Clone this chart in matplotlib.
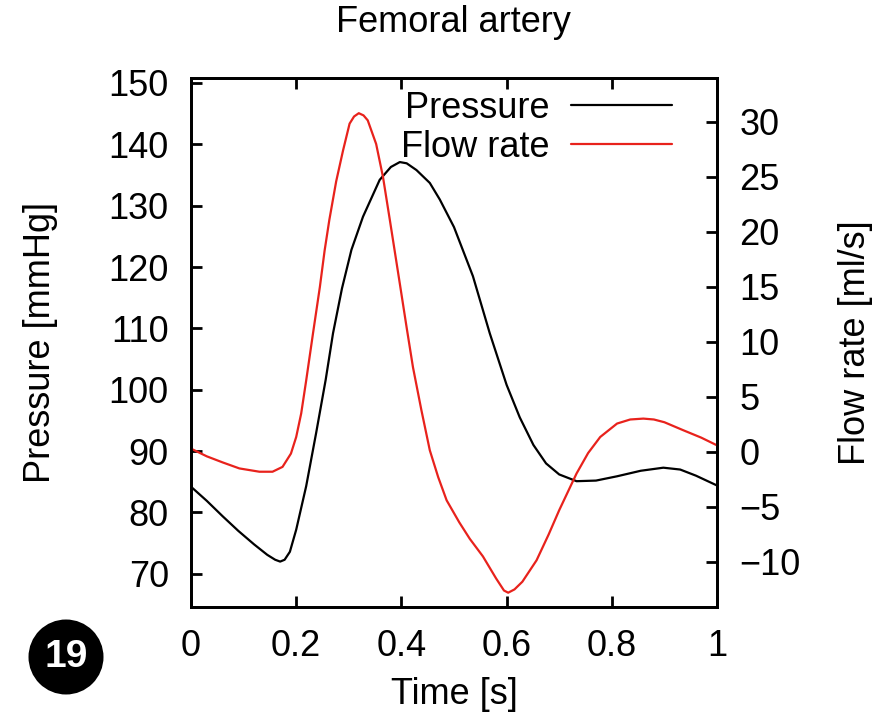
import numpy as np
import matplotlib
matplotlib.use("Agg")
import matplotlib.pyplot as plt
from matplotlib.patches import Ellipse

# ── data ─────────────────────────────────────────────────────────────────
t_pressure = [0.0, 0.03, 0.06, 0.09, 0.12, 0.145, 0.16, 0.1695, 0.178, 0.188,
              0.2, 0.219, 0.238, 0.256, 0.27, 0.287, 0.305, 0.327, 0.3587, 0.38,
              0.397, 0.41, 0.4286, 0.454, 0.473, 0.50, 0.536, 0.568, 0.60, 0.625,
              0.651, 0.675, 0.70, 0.733, 0.77, 0.81, 0.855, 0.898, 0.93, 0.96,
              1.0]
pressure = [84.2, 81.9, 79.4, 77.0, 74.8, 73.1, 72.3, 72.0, 72.3, 73.6,
            77.2, 84.3, 93.0, 101.6, 109.2, 116.5, 122.8, 128.2, 134.2, 136.3,
            137.1, 136.9, 135.8, 133.7, 131.0, 126.5, 118.5, 109.2, 100.8, 95.5,
            91.0, 88.0, 86.2, 85.1, 85.2, 85.9, 86.8, 87.3, 87.0, 86.0,
            84.4]

t_flow = [0.0, 0.03, 0.06, 0.092, 0.13, 0.155, 0.174, 0.19, 0.2, 0.2095,
          0.219, 0.232, 0.245, 0.254, 0.263, 0.276, 0.289, 0.3015, 0.31, 0.319,
          0.328, 0.336, 0.352, 0.365, 0.378, 0.397, 0.41, 0.422, 0.438, 0.454,
          0.47, 0.486, 0.51, 0.53, 0.555, 0.58, 0.595, 0.603, 0.615, 0.63,
          0.657, 0.68, 0.70, 0.733, 0.755, 0.778, 0.81, 0.835, 0.86, 0.88,
          0.90, 0.936, 0.97, 1.0]
flow = [0.3, -0.4, -0.95, -1.5, -1.8, -1.8, -1.36, -0.15, 1.36, 3.5,
        6.5, 10.8, 15.0, 18.3, 21.1, 24.6, 27.4, 29.85, 30.5, 30.8,
        30.6, 30.15, 28.0, 25.0, 21.1, 15.3, 11.3, 7.7, 3.8, 0.15,
        -2.3, -4.4, -6.4, -7.9, -9.5, -11.5, -12.6, -12.8, -12.5, -11.8,
        -9.85, -7.5, -5.3, -1.96, -0.1, 1.36, 2.58, 2.95, 3.03, 2.95,
        2.7, 1.97, 1.3, 0.6]

x_ticks = [0, 0.2, 0.4, 0.6, 0.8, 1]
x_ticklabels = ["0", "0.2", "0.4", "0.6", "0.8", "1"]
p_ticks = [70, 80, 90, 100, 110, 120, 130, 140, 150]
q_ticks = [-10, -5, 0, 5, 10, 15, 20, 25, 30]

plt.rcParams["font.family"] = ["Liberation Sans", "DejaVu Sans"]
plt.rcParams["font.size"] = 26
plt.rcParams["axes.linewidth"] = 2.0

fig = plt.figure(figsize=(8.76, 7.24), dpi=100)
ax = fig.add_axes([191 / 876, 117 / 724, 526 / 876, 529 / 724])
ax2 = ax.twinx()

line_kw = dict(lw=1.6, solid_joinstyle="round", solid_capstyle="round")
l1, = ax.plot(t_pressure, pressure, color="black", label="Pressure", **line_kw)
l2, = ax2.plot(t_flow, flow, color="#e8221c", label="Flow rate", **line_kw)

ax.set_xlim(0, 1)
ax.set_ylim(64.6, 150.8)
ax2.set_ylim(-14.1, 34.0)

ax.set_xticks(x_ticks)
ax.set_xticklabels(x_ticklabels)
ax.set_yticks(p_ticks)
ax2.set_yticks(q_ticks)

ax.tick_params(axis="x", direction="in", length=8, width=2, pad=16, top=True)
ax.tick_params(axis="y", direction="in", length=8, width=2, pad=16, right=False)
ax2.tick_params(axis="y", direction="in", length=8, width=2, pad=16)

ax.set_title("Femoral artery", fontsize=26, pad=33)
ax.set_xlabel("Time [s]", labelpad=9)
ax.set_ylabel("Pressure [mmHg]", labelpad=36)
ax2.set_ylabel("Flow rate [ml/s]", labelpad=27)

leg = ax2.legend(handles=[l1, l2], loc="upper right", frameon=False,
                 markerfirst=False, handlelength=2.8, handletextpad=0.6,
                 borderpad=0, borderaxespad=0, labelspacing=0.1,
                 bbox_to_anchor=(672 / 876, 1 - 91 / 724),
                 bbox_transform=fig.transFigure)

# numbered badge in the lower-left corner
fig.patches.append(Ellipse((66 / 876, 1 - 657 / 724), 75 / 876, 75 / 724,
                           transform=fig.transFigure, facecolor="black",
                           edgecolor="none"))
fig.text(66 / 876, 1 - 657 / 724, "19", color="white", fontsize=28,
         fontweight="bold", ha="center", va="center")

fig.savefig("out.png", dpi=100)
